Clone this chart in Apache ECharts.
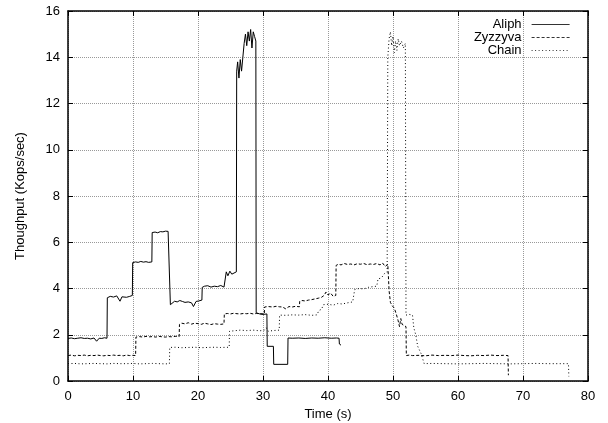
<!DOCTYPE html>
<html><head><meta charset="utf-8">
<script src="https://cdn.jsdelivr.net/npm/echarts@6/dist/echarts.min.js"></script>
<style>html,body{margin:0;padding:0;background:#fff}#c{width:608px;height:423px}</style>
</head><body><div id="c"></div>
<script>
const xTicks = [0, 10, 20, 30, 40, 50, 60, 70, 80];
const yTicks = [0, 2, 4, 6, 8, 10, 12, 14, 16];
const seriesNames = ['Aliph', 'Zyzzyva', 'Chain'];

const aliph = [
[0,1.84],[0.5,1.86],[1,1.83],[1.5,1.85],[2,1.87],[2.5,1.84],[3,1.85],[3.5,1.82],[4,1.86],[4.4,1.72],[4.8,1.85],[5.2,1.84],[5.6,1.87],[6.0,1.85],
[6.05,3.6],[6.5,3.66],[7,3.63],[7.5,3.68],[8,3.45],[8.3,3.64],[8.6,3.67],[9,3.62],[9.5,3.66],[9.9,3.7],
[9.95,5.12],[10.4,5.15],[10.8,5.13],[11.2,5.17],[11.6,5.14],[12,5.16],[12.4,5.13],[12.9,5.15],
[12.95,6.42],[13.4,6.44],[13.8,6.41],[14.2,6.46],[14.6,6.45],[15,6.48],[15.4,6.47],[15.7,6.5],
[15.75,3.3],[16.0,3.25],[16.4,3.45],[16.8,3.42],[17.2,3.48],[17.6,3.44],[18,3.4],[18.5,3.42],[19,3.38],[19.3,3.22],[19.7,3.44],[20.1,3.46],[20.6,3.5],
[20.65,4.05],[21,4.1],[21.5,4.12],[22,4.06],[22.5,4.1],[23,4.08],[23.5,4.13],[24,4.06],[24.3,4.14],
[24.35,4.72],[24.6,4.55],[24.9,4.75],[25.2,4.62],[25.5,4.7],[25.9,4.72],
[25.95,13.4],[26.1,13.8],[26.3,13.1],[26.5,13.9],[26.7,13.4],[26.9,14.0],[27.1,14.6],[27.3,15.0],[27.5,14.5],[27.7,15.1],[27.9,14.7],[28.1,15.2],[28.3,14.4],[28.5,15.1],[28.7,14.9],[28.9,14.7],
[28.95,2.95],[29.5,2.9],[30,2.88],[30.6,2.9],
[30.65,1.5],[31.6,1.5],
[31.65,0.72],[33.8,0.72],
[33.85,1.86],[34.5,1.85],[35.5,1.86],[36.5,1.84],[37.5,1.86],[38.5,1.85],[39.5,1.87],[40.5,1.85],[41.3,1.86],[41.7,1.85],
[41.75,1.6],[42,1.55]
];

const zyzzyva = [
[0,1.1],[0.5,1.12],[1,1.09],[1.5,1.11],[2,1.1],[2.5,1.12],[3,1.09],[3.5,1.11],[4,1.1],[4.5,1.12],[5,1.1],[5.5,1.09],[6,1.11],[6.5,1.1],[7,1.12],[7.5,1.1],[8,1.11],[8.5,1.09],[9,1.12],[9.5,1.1],[10,1.11],[10.4,1.1],
[10.45,1.9],[11,1.92],[11.5,1.9],[12,1.93],[12.5,1.91],[13,1.92],[13.5,1.9],[14,1.93],[14.5,1.91],[15,1.9],[15.5,1.92],[16,1.91],[16.5,1.93],[17.1,1.92],
[17.15,2.45],[17.5,2.5],[18,2.47],[18.5,2.52],[19,2.46],[19.5,2.5],[20,2.48],[20.5,2.45],[21,2.5],[21.5,2.47],[22,2.44],[22.5,2.48],[23,2.46],[23.5,2.45],[24,2.47],
[24.05,2.9],[24.5,2.92],[25,2.9],[25.5,2.93],[26,2.91],[26.5,2.9],[27,2.92],[27.5,2.91],[28,2.93],[28.5,2.9],[29,2.92],[29.5,2.91],[30.2,2.9],
[30.25,3.2],[30.8,3.22],[31.5,3.2],[32,3.23],[32.5,3.21],[33,3.2],[33.5,3.12],[34,3.22],[34.5,3.2],[35,3.23],[35.6,3.21],
[35.65,3.45],[36,3.48],[36.5,3.46],[37,3.5],[37.5,3.52],[38,3.55],[38.5,3.58],[39,3.62],[39.4,3.7],[39.7,3.85],[40,3.72],[40.4,3.8],[40.8,3.66],[41.2,3.7],
[41.25,5.0],[41.6,5.05],[42,5.02],[42.5,5.08],[43,5.04],[43.5,5.06],[44,5.02],[44.5,5.07],[45,5.05],[45.5,5.08],[46,5.03],[46.5,5.06],[47,5.04],[47.5,5.08],[48,5.02],[48.4,5.1],[48.8,4.95],[49.2,5.05],
[49.4,3.9],[49.6,3.4],[49.9,3.25],[50.2,3.15],[50.5,2.9],[50.8,2.6],[51.0,2.35],[51.2,2.7],[51.4,2.45],[51.7,2.4],[52,2.35],
[52.05,1.1],[52.5,1.12],[53,1.1],[54,1.11],[55,1.09],[56,1.12],[57,1.1],[58,1.11],[59,1.1],[60,1.12],[61,1.1],[62,1.09],[63,1.11],[64,1.1],[65,1.12],[66,1.1],[67,1.11],[67.7,1.1],
[67.75,0.25]
];

const chain = [
[0,0.75],[1,0.76],[2,0.74],[3,0.75],[4,0.76],[5,0.75],[6,0.74],[7,0.76],[8,0.75],[9,0.75],[10,0.76],[11,0.74],[12,0.75],[13,0.76],[14,0.75],[15,0.74],[15.6,0.75],
[15.65,1.45],[16.5,1.46],[17.5,1.44],[18.5,1.45],[19.5,1.46],[20.5,1.44],[21.5,1.45],[22.5,1.46],[23.5,1.45],[24.8,1.46],
[24.85,2.15],[25.5,2.17],[26.5,2.2],[27.5,2.18],[28.5,2.2],[29.5,2.17],[30.2,2.2],[30.5,2.3],[30.8,2.15],[31.5,2.18],[32.5,2.2],
[32.55,2.85],[33.5,2.84],[34.5,2.86],[35.5,2.85],[36.5,2.87],[37.5,2.84],[38.3,2.86],
[38.6,3.05],[39,3.1],[39.3,3.3],[40,3.32],[40.8,3.28],[41.5,3.35],[42.2,3.33],[43,3.38],[43.8,3.42],
[44.1,3.95],[44.8,4.0],[45.5,3.98],[46.2,4.05],[46.9,4.08],[47.5,4.1],
[47.7,4.42],[48.2,4.45],[48.7,4.65],[49.1,4.7],
[49.2,14.0],[49.4,14.8],[49.6,15.1],[49.8,14.5],[50,14.9],[50.2,14.2],[50.4,14.7],[50.6,14.3],[50.8,14.8],[51,14.5],[51.3,14.7],[51.6,14.4],[51.9,14.6],
[52,2.85],[52.5,2.88],[53,2.85],[53.2,2.3],[53.5,2.0],[53.8,1.5],[54.3,1.2],[54.8,0.75],
[56,0.76],[58,0.75],[60,0.74],[62,0.75],[64,0.76],[66,0.75],[68,0.74],[70,0.75],[72,0.76],[74,0.75],[76,0.75],[77,0.75],
[77.05,0.2]
];

const font = 'Liberation Sans';
const chart = echarts.init(document.getElementById('c'), null, {renderer: 'canvas'});
function mkAxisLine() { return {show: true, onZero: false, lineStyle: {color: '#000', width: 1.5, type: 'solid'}}; }
function mkTick() { return {show: true, inside: true, length: 5, lineStyle: {color: '#000', width: 1}}; }
function mkGrid() { return {show: true, lineStyle: {color: '#999', width: 1, type: 'dotted'}}; }
const lineTypes = ['solid', [3, 2], [1, 2.5]];
const datasets = [aliph, zyzzyva, chain];

chart.setOption({
  animation: false,
  backgroundColor: '#fff',
  grid: {left: 68, right: 20, top: 11, bottom: 42, containLabel: false, outerBoundsMode: 'none', show: false},
  legend: {
    orient: 'vertical', right: 38, top: 18, align: 'right', padding: 0,
    itemWidth: 38, itemHeight: 11, itemGap: 0,
    itemStyle: {opacity: 0},
    lineStyle: {width: 0.8},
    textStyle: {fontFamily: font, fontSize: 13, lineHeight: 12.5, color: '#000', padding: [0, 5, 0, 0]},
    data: seriesNames
  },
  xAxis: [{
    type: 'value', position: 'bottom', min: xTicks[0], max: xTicks[xTicks.length - 1], interval: 10,
    name: 'Time (s)', nameLocation: 'middle', nameGap: 27,
    nameTextStyle: {fontFamily: font, fontSize: 13, color: '#000'},
    axisLine: mkAxisLine(), axisTick: mkTick(), splitLine: mkGrid(),
    axisLabel: {fontFamily: font, fontSize: 13, color: '#000', margin: 9}
  }, {
    type: 'value', position: 'top', min: xTicks[0], max: xTicks[xTicks.length - 1], interval: 10,
    axisLine: mkAxisLine(), axisTick: mkTick(), splitLine: {show: false}, axisLabel: {show: false}
  }],
  yAxis: [{
    type: 'value', position: 'left', min: yTicks[0], max: yTicks[yTicks.length - 1], interval: 2,
    name: 'Thoughput (Kops/sec)', nameLocation: 'middle', nameGap: 41, nameRotate: 90,
    nameTextStyle: {fontFamily: font, fontSize: 13, color: '#000'},
    axisLine: mkAxisLine(), axisTick: mkTick(), splitLine: mkGrid(),
    axisLabel: {fontFamily: font, fontSize: 13, color: '#000', margin: 8}
  }, {
    type: 'value', position: 'right', min: yTicks[0], max: yTicks[yTicks.length - 1], interval: 2,
    axisLine: mkAxisLine(), axisTick: mkTick(), splitLine: {show: false}, axisLabel: {show: false}
  }],
  series: seriesNames.map((n, i) => ({
    name: n, type: 'line', data: datasets[i], symbol: 'none', showSymbol: false,
    xAxisIndex: 0, yAxisIndex: 0,
    lineStyle: {color: '#000', width: 1, type: lineTypes[i]},
    itemStyle: {color: '#000'}
  }))
});
</script></body></html>
